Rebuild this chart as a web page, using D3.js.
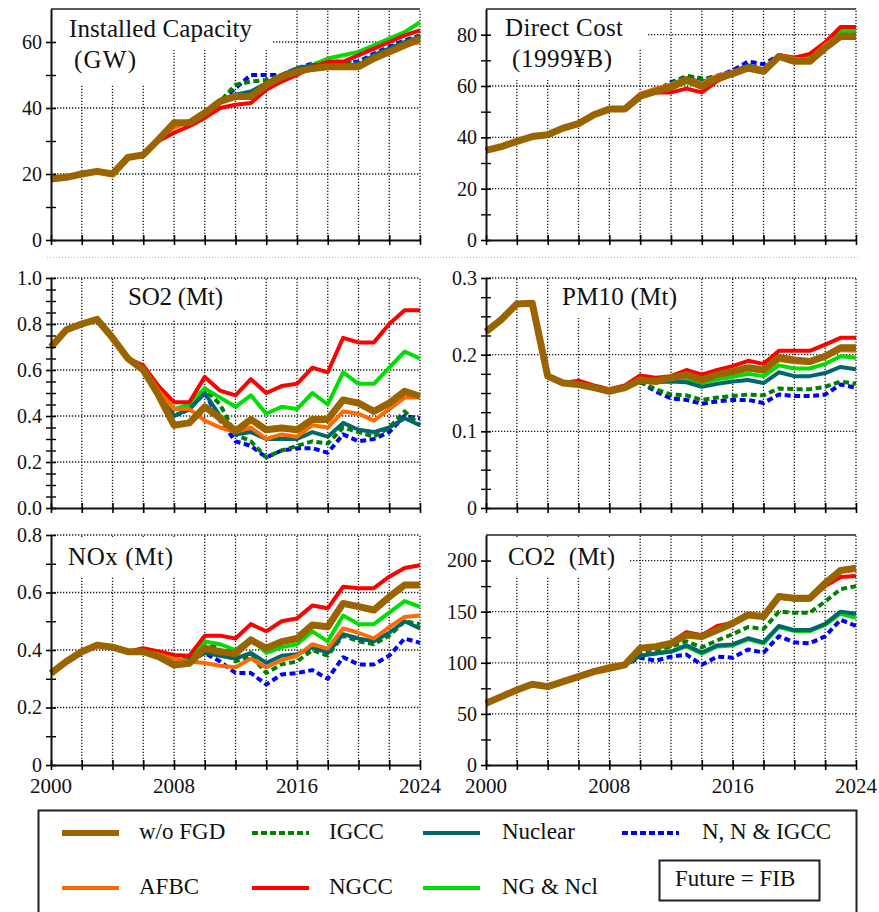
<!DOCTYPE html>
<html>
<head>
<meta charset="utf-8">
<script src="https://cdn.jsdelivr.net/npm/d3@7"></script>
<style>
  html, body { margin: 0; padding: 0; background: #fff; }
  svg { display: block; }
  svg text { font-family: "Liberation Serif", "Times New Roman", Times, Tinos, "DejaVu Serif", serif; }
</style>
</head>
<body>
<svg id="chart" width="879" height="912"></svg>
<script>
// ---- data -------------------------------------------------------------
const years = [2000,2001,2002,2003,2004,2005,2006,2007,2008,2009,2010,2011,2012,
               2013,2014,2015,2016,2017,2018,2019,2020,2021,2022,2023,2024];

// Installed capacity (GW)
const capacity = {
  woFGD:   [18.5,19,20,20.8,20,25,25.8,30.5,35.5,35.5,38.5,42,43.5,43.5,47,49.5,51,52,52.5,52.5,52.5,55,57,59,61],
  afbc:    [18.5,19,20,20.8,20,25,25.8,31,34,36,39,42,43,44,47,49,51,52,52.5,52.5,52.5,55,57,59,60],
  ngcc:    [18.5,19,20,20.8,20,25,25.8,30,32.5,34.5,37,40,41,41.5,45.5,48,50,52.5,54,54,56,58,60,62,63.5],
  igcc:    [18.5,19,20,20.8,20,25,25.8,30.5,35,35.5,38.5,42,47,48,48.5,50,52,53,54,54,53.5,56,58,60,62],
  nuclear: [18.5,19,20,20.8,20,25,25.8,30.5,35,35.5,38.5,42,44,45,47.5,50,52,53,53,53,53,56,58,60,61.5],
  ngncl:   [18.5,19,20,20.8,20,25,25.8,30.5,35,35.5,38.5,42,44,44,47,49.5,51,53,55,56,57,59,61,63,66],
  nnigcc:  [18.5,19,20,20.8,20,25,25.8,30.5,35,35.5,38.5,42,46,50,50,50,52,53.5,54,54,54,56.5,58.5,60.5,62]
};

// Direct cost (1999 yen, billions)
const directCost = {
  woFGD:   [34.9,36.4,38.4,40.3,41,43.6,45.3,48.8,51,51,56,57.9,59.6,62.4,59.8,63,64.8,67,65.7,71.5,69.6,69.6,74.8,79.3,79.3],
  afbc:    [35,36.5,38.5,40.4,41.2,43.8,45.5,49,51.2,51.5,57,59,60.5,63,61,64,65.5,67.5,66.5,72,70.5,70.5,76,80,80],
  ngcc:    [34.9,36.4,38.4,40.3,41,43.6,45.3,48.8,51,51,56,57.5,57.5,59,57.5,62,64.5,66.5,66,72,71,72.5,77,83,83],
  igcc:    [34.9,36.4,38.4,40.3,41,43.6,45.3,48.8,51,51,56,58,61,64,63,63.5,65,68,66.5,71.5,71,70.5,76,80.5,80.5],
  nuclear: [34.9,36.4,38.4,40.3,41,43.6,45.3,48.8,51,51,56,58,60.5,63,61.5,63.5,65.5,68,66.5,72,70.5,70.5,76,80,80],
  ngncl:   [34.9,36.4,38.4,40.3,41,43.6,45.3,48.8,51,51,56,57.8,59,61.5,59.5,63,65,67.5,66.5,72,71,71.5,76.5,81.5,81.5],
  nnigcc:  [34.9,36.4,38.4,40.3,41,43.6,45.3,48.8,51,51,56,58,61.5,63.5,62.5,64,66,69.5,68.5,72,71,71,76,80,80]
};

// SO2 emissions (Mt)
const so2 = {
  woFGD:   [0.70,0.775,0.80,0.82,0.74,0.65,0.60,0.49,0.36,0.37,0.44,0.39,0.335,0.385,0.34,0.348,0.34,0.385,0.385,0.47,0.456,0.42,0.456,0.507,0.486],
  afbc:    [0.70,0.775,0.80,0.82,0.74,0.65,0.61,0.51,0.43,0.43,0.38,0.35,0.33,0.35,0.30,0.32,0.31,0.36,0.35,0.42,0.41,0.38,0.43,0.48,0.48],
  ngcc:    [0.70,0.775,0.80,0.82,0.74,0.65,0.62,0.53,0.46,0.46,0.57,0.51,0.49,0.56,0.50,0.53,0.54,0.61,0.59,0.74,0.72,0.72,0.80,0.86,0.86],
  igcc:    [0.70,0.775,0.80,0.82,0.74,0.65,0.60,0.50,0.40,0.43,0.52,0.45,0.32,0.29,0.22,0.25,0.27,0.29,0.28,0.35,0.33,0.31,0.35,0.42,0.36],
  nuclear: [0.70,0.775,0.80,0.82,0.74,0.65,0.60,0.50,0.40,0.43,0.50,0.40,0.32,0.33,0.30,0.30,0.30,0.33,0.31,0.37,0.34,0.33,0.35,0.39,0.36],
  ngncl:   [0.70,0.775,0.80,0.82,0.74,0.65,0.60,0.51,0.43,0.45,0.52,0.48,0.44,0.49,0.41,0.44,0.43,0.50,0.45,0.59,0.54,0.54,0.61,0.68,0.65],
  nnigcc:  [0.70,0.775,0.80,0.82,0.74,0.65,0.60,0.50,0.40,0.43,0.50,0.38,0.29,0.27,0.22,0.25,0.26,0.26,0.24,0.32,0.29,0.30,0.33,0.40,0.39]
};

// PM10 emissions (Mt)
const pm10 = {
  woFGD:   [0.230,0.246,0.266,0.267,0.172,0.163,0.161,0.157,0.152,0.157,0.167,0.165,0.170,0.174,0.167,0.174,0.178,0.183,0.180,0.196,0.193,0.191,0.198,0.209,0.209],
  afbc:    [0.230,0.246,0.266,0.267,0.172,0.163,0.161,0.157,0.155,0.155,0.165,0.165,0.168,0.172,0.166,0.172,0.176,0.181,0.178,0.193,0.190,0.189,0.196,0.206,0.205],
  ngcc:    [0.230,0.246,0.266,0.267,0.172,0.163,0.166,0.160,0.155,0.160,0.173,0.170,0.172,0.180,0.174,0.180,0.185,0.192,0.188,0.205,0.205,0.205,0.213,0.222,0.222],
  igcc:    [0.230,0.246,0.266,0.267,0.172,0.163,0.161,0.157,0.152,0.157,0.165,0.155,0.148,0.147,0.141,0.144,0.146,0.148,0.147,0.156,0.155,0.155,0.158,0.165,0.162],
  nuclear: [0.230,0.246,0.266,0.267,0.172,0.163,0.161,0.157,0.152,0.157,0.167,0.164,0.165,0.164,0.158,0.162,0.165,0.167,0.163,0.177,0.172,0.172,0.176,0.184,0.181],
  ngncl:   [0.230,0.246,0.266,0.267,0.172,0.163,0.161,0.157,0.152,0.157,0.167,0.165,0.168,0.168,0.163,0.168,0.171,0.175,0.172,0.186,0.182,0.182,0.188,0.198,0.196],
  nnigcc:  [0.230,0.246,0.266,0.267,0.172,0.163,0.161,0.157,0.152,0.157,0.165,0.152,0.143,0.141,0.136,0.139,0.141,0.141,0.137,0.148,0.146,0.146,0.148,0.161,0.157]
};

// NOx emissions (Mt)
const nox = {
  woFGD:   [0.319,0.36,0.394,0.417,0.41,0.394,0.394,0.377,0.348,0.354,0.406,0.394,0.388,0.435,0.406,0.429,0.44,0.487,0.481,0.562,0.551,0.539,0.585,0.626,0.626],
  afbc:    [0.319,0.36,0.394,0.417,0.41,0.394,0.394,0.385,0.37,0.36,0.355,0.345,0.34,0.37,0.34,0.365,0.38,0.42,0.405,0.475,0.46,0.44,0.48,0.515,0.52],
  ngcc:    [0.319,0.36,0.394,0.417,0.41,0.394,0.406,0.395,0.383,0.38,0.45,0.45,0.44,0.49,0.465,0.50,0.51,0.555,0.545,0.62,0.615,0.615,0.655,0.685,0.695],
  igcc:    [0.319,0.36,0.394,0.417,0.41,0.394,0.394,0.377,0.348,0.38,0.43,0.40,0.36,0.38,0.32,0.35,0.36,0.40,0.38,0.45,0.43,0.42,0.45,0.50,0.49],
  nuclear: [0.319,0.36,0.394,0.417,0.41,0.394,0.394,0.377,0.348,0.37,0.39,0.38,0.37,0.39,0.355,0.38,0.385,0.41,0.39,0.455,0.44,0.43,0.46,0.50,0.475],
  ngncl:   [0.319,0.36,0.394,0.417,0.41,0.394,0.394,0.377,0.355,0.37,0.43,0.42,0.40,0.44,0.39,0.41,0.42,0.465,0.43,0.52,0.49,0.49,0.53,0.57,0.55],
  nnigcc:  [0.319,0.36,0.394,0.417,0.41,0.394,0.394,0.377,0.348,0.36,0.39,0.36,0.32,0.32,0.28,0.315,0.32,0.33,0.30,0.375,0.35,0.35,0.38,0.44,0.425]
};

// CO2 emissions (Mt)
const co2 = {
  woFGD:   [60.4,66.9,73.4,79,76.7,81.6,86.5,91.4,94.6,97.9,114.2,115.8,119,127.2,125.6,132.1,138.7,146.8,145.2,164.8,163.1,163.1,177.8,190.2,192.5],
  afbc:    [60.4,66.9,73.4,79,76.7,81.6,86.5,92.5,97,99,114.2,115.8,119,127.2,125.6,132.1,138.7,146.8,145.2,164.8,163.1,163.1,177.8,190.2,192.5],
  ngcc:    [60.4,66.9,73.4,79,76.7,81.6,86.5,91.4,94.6,97.9,114.2,116,120,130,127,136,139,147,145,164,162,162,175,184,185],
  igcc:    [60.4,66.9,73.4,79,76.7,81.6,86.5,91.4,94.6,97.9,110,112,116,121,115,122,128,135,133,150,149,149,160,172,175],
  nuclear: [60.4,66.9,73.4,79,76.7,81.6,86.5,91.4,94.6,97.9,107,109,111,117,110,117,118,124,120,136,132,132,138,150,148],
  ngncl:   [60.4,66.9,73.4,79,76.7,81.6,86.5,91.4,94.6,97.9,107,109,111,116,109,116,117,123,119,135,131,131,137,148,144],
  nnigcc:  [60.4,66.9,73.4,79,76.7,81.6,86.5,91.4,94.6,97.9,105,102,106,108,98,106,105,113,110,126,120,119,126,142,136]
};

// axis ticks and their labels
const capacityTicks = [0,20,40,60];            const capacityLabels = ["0","20","40","60"];
const costTicks     = [0,20,40,60,80];         const costLabels     = ["0","20","40","60","80"];
const so2Ticks      = [0,0.2,0.4,0.6,0.8,1.0]; const so2Labels      = ["0.0","0.2","0.4","0.6","0.8","1.0"];
const pm10Ticks     = [0,0.1,0.2,0.3];         const pm10Labels     = ["0","0.1","0.2","0.3"];
const noxTicks      = [0,0.2,0.4,0.6,0.8];     const noxLabels      = ["0","0.2","0.4","0.6","0.8"];
const co2Ticks      = [0,50,100,150,200];      const co2Labels      = ["0","50","100","150","200"];
const yearLabels    = [2000,2008,2016,2024];

// scenario styling, listed in drawing order (last drawn on top)
const seriesStyle = [
  { key: "nnigcc",  name: "N, N & IGCC", color: "#0000ff", width: 4, dash: "6,3.5" },
  { key: "igcc",    name: "IGCC",        color: "#008000", width: 4, dash: "6,3.5" },
  { key: "ngncl",   name: "NG & Ncl",    color: "#00dd00", width: 4, dash: null },
  { key: "nuclear", name: "Nuclear",     color: "#006868", width: 4, dash: null },
  { key: "ngcc",    name: "NGCC",        color: "#ff0000", width: 4, dash: null },
  { key: "afbc",    name: "AFBC",        color: "#ff6a00", width: 4, dash: null },
  { key: "woFGD",   name: "w/o FGD",     color: "#9a6400", width: 7, dash: null }
];

// ---- layout -----------------------------------------------------------
const cols = [[51, 420], [486, 856]];
const rows = [[9, 240], [278, 508], [535, 765]];

const panels = [
  { data: capacity, col: 0, row: 0, max: 70, ticks: capacityTicks, labels: capacityLabels, minorStep: 10,
    frameTop: true,
    titles: [{ t: "Installed Capacity", dx: 18, dy: 28, len: 183 }, { t: "(GW)", dx: 23, dy: 59, len: 62 }],
    masks: [[1, 0, 221, 41], [1, 0, 109, 76]] },
  { data: directCost, col: 1, row: 0, max: 90, ticks: costTicks, labels: costLabels, minorStep: 10,
    frameTop: true,
    titles: [{ t: "Direct Cost", dx: 19, dy: 27, len: 118 }, { t: "(1999¥B)", dx: 26, dy: 58, len: 100 }],
    masks: [[1, 0, 161, 39], [1, 0, 138, 71]] },
  { data: so2, col: 0, row: 1, max: 1.0, ticks: so2Ticks, labels: so2Labels, minorStep: 0.05,
    frameTop: false,
    titles: [{ t: "SO2 (Mt)", dx: 77, dy: 27, len: 95 }],
    masks: [[74, 2, 127, 40]] },
  { data: pm10, col: 1, row: 1, max: 0.3, ticks: pm10Ticks, labels: pm10Labels, minorStep: 0.025,
    frameTop: false,
    titles: [{ t: "PM10 (Mt)", dx: 76, dy: 27, len: 115 }],
    masks: [[74, 2, 130, 38]] },
  { data: nox, col: 0, row: 2, max: 0.8, ticks: noxTicks, labels: noxLabels, minorStep: 0.1,
    frameTop: false, xLabels: true,
    titles: [{ t: "NOx (Mt)", dx: 17, dy: 30, len: 105 }],
    masks: [[1, 2, 134, 40]] },
  { data: co2, col: 1, row: 2, max: 225, ticks: co2Ticks, labels: co2Labels, minorStep: 25,
    frameTop: true, xLabels: true,
    titles: [{ t: "CO2  (Mt)", dx: 22, dy: 30, len: 107 }],
    masks: [[1, 2, 143, 40]] }
];

const gridYears = d3.range(2002, 2025, 2);
const tickYears = d3.range(2000, 2025, 2);
const FONT = '"Liberation Serif", "Times New Roman", Times, Tinos, "DejaVu Serif", serif';

const svg = d3.select("#chart");

// faint dotted rule separating the first row from the second
svg.append("line")
  .attr("x1", 47).attr("x2", 860).attr("y1", 257.5).attr("y2", 257.5)
  .attr("stroke", "#b8b8b8").attr("stroke-width", 1).attr("stroke-dasharray", "1,2");

function dotted(sel) {
  return sel.attr("stroke", "#1a1a1a").attr("stroke-width", 1.3).attr("stroke-dasharray", "1.3,1.7");
}

panels.forEach(p => {
  const [x0, x1] = cols[p.col];
  const [top, bottom] = rows[p.row];
  const x = d3.scaleLinear().domain([2000, 2024]).range([x0, x1]);
  const y = d3.scaleLinear().domain([0, p.max]).range([bottom, top]);
  const g = svg.append("g");

  // dotted grid
  g.append("g").selectAll("line").data(gridYears).join("line")
    .attr("x1", d => x(d)).attr("x2", d => x(d))
    .attr("y1", bottom).attr("y2", top)
    .call(dotted);
  g.append("g").selectAll("line").data(p.ticks.filter(v => v > 0)).join("line")
    .attr("x1", x0).attr("x2", x1)
    .attr("y1", d => y(d)).attr("y2", d => y(d))
    .call(dotted);

  // white backing behind the panel title
  p.masks.forEach(m => {
    g.append("rect")
      .attr("x", x0 + m[0]).attr("y", top + m[1])
      .attr("width", m[2]).attr("height", m[3])
      .attr("fill", "#fff");
  });

  if (p.frameTop) {
    g.append("line")
      .attr("x1", x0).attr("x2", x1).attr("y1", top).attr("y2", top)
      .attr("stroke", "#222").attr("stroke-width", 1.6);
  }

  // titles
  p.titles.forEach(t => {
    g.append("text")
      .attr("x", x0 + t.dx).attr("y", top + t.dy)
      .attr("font-family", FONT)
      .attr("font-size", 25)
      .attr("fill", "#111")
      .attr("textLength", t.len).attr("lengthAdjust", "spacing")
      .style("white-space", "pre")
      .text(t.t);
  });

  // scenario lines
  const line = d3.line()
    .x((d, i) => x(years[i]))
    .y(d => y(d))
    .curve(d3.curveLinear);
  seriesStyle.forEach(s => {
    g.append("path")
      .datum(p.data[s.key])
      .attr("d", line)
      .attr("fill", "none")
      .attr("stroke", s.color)
      .attr("stroke-width", s.width)
      .attr("stroke-linejoin", "round")
      .attr("stroke-dasharray", s.dash);
  });

  // minor ticks on the value axis
  const minor = d3.range(p.minorStep, p.max + 1e-9, p.minorStep)
    .map(v => +v.toFixed(4))
    .filter(v => !p.ticks.some(t => Math.abs(t - v) < 1e-6) && v < p.max - 1e-6);
  const yMinor = g.append("g").attr("transform", `translate(${x0},0)`)
    .call(d3.axisLeft(y).tickValues(minor).tickSize(5).tickSizeOuter(0).tickFormat(""));
  yMinor.select(".domain").remove();
  yMinor.selectAll(".tick line").attr("x1", 5).attr("stroke-width", 1.4);

  // major ticks + labels on the value axis
  const yAxis = g.append("g").attr("transform", `translate(${x0},0)`)
    .call(d3.axisLeft(y).tickValues(p.ticks).tickSize(5).tickSizeOuter(0).tickPadding(4)
      .tickFormat((d, i) => p.labels[i]));
  yAxis.attr("font-family", FONT).attr("font-size", 20);
  yAxis.select(".domain").attr("stroke", "#111").attr("stroke-width", 2);
  yAxis.selectAll(".tick line").attr("x1", 5).attr("stroke-width", 1.6);
  yAxis.selectAll(".tick text").attr("fill", "#111");

  // year axis
  const xAxis = g.append("g").attr("transform", `translate(0,${bottom})`)
    .call(d3.axisBottom(x).tickValues(tickYears).tickSize(5).tickSizeOuter(0).tickFormat(""));
  xAxis.select(".domain").attr("stroke", "#111").attr("stroke-width", 2);
  xAxis.selectAll(".tick line").attr("y1", -5).attr("stroke-width", 1.6);

  if (p.xLabels) {
    g.append("g").selectAll("text").data(yearLabels).join("text")
      .attr("x", d => x(d)).attr("y", bottom + 28)
      .attr("text-anchor", "middle")
      .attr("font-family", FONT)
      .attr("font-size", 21)
      .attr("fill", "#111")
      .text(d => d);
  }
});

// ---- legend -----------------------------------------------------------
const legendRows = [["woFGD", "igcc", "nuclear", "nnigcc"], ["afbc", "ngcc", "ngncl"]];
const legendSwatchX = [62, 252, 423, 622];
const legendTextX = [139, 329, 502, 702];
const legendRowY = [833, 888];

const lg = svg.append("g").attr("font-family", FONT);
lg.append("rect")
  .attr("x", 38.5).attr("y", 810.5).attr("width", 818).attr("height", 120)
  .attr("fill", "#fff").attr("stroke", "#222").attr("stroke-width", 2);

legendRows.forEach((row, r) => {
  row.forEach((key, c) => {
    const s = seriesStyle.find(d => d.key === key);
    lg.append("line")
      .attr("x1", legendSwatchX[c]).attr("x2", legendSwatchX[c] + 57)
      .attr("y1", legendRowY[r]).attr("y2", legendRowY[r])
      .attr("stroke", s.color)
      .attr("stroke-width", key === "woFGD" ? 6 : 4)
      .attr("stroke-dasharray", s.dash ? "6,3" : null);
    lg.append("text")
      .attr("x", legendTextX[c]).attr("y", legendRowY[r] + 6)
      .attr("font-size", 23).attr("fill", "#111")
      .text(s.name);
  });
});

lg.append("rect")
  .attr("x", 659.5).attr("y", 860.5).attr("width", 160).attr("height", 40)
  .attr("fill", "#fff").attr("stroke", "#222").attr("stroke-width", 2);
lg.append("text")
  .attr("x", 675).attr("y", 886)
  .attr("font-size", 23).attr("fill", "#111")
  .text("Future = FIB");
</script>
</body>
</html>
